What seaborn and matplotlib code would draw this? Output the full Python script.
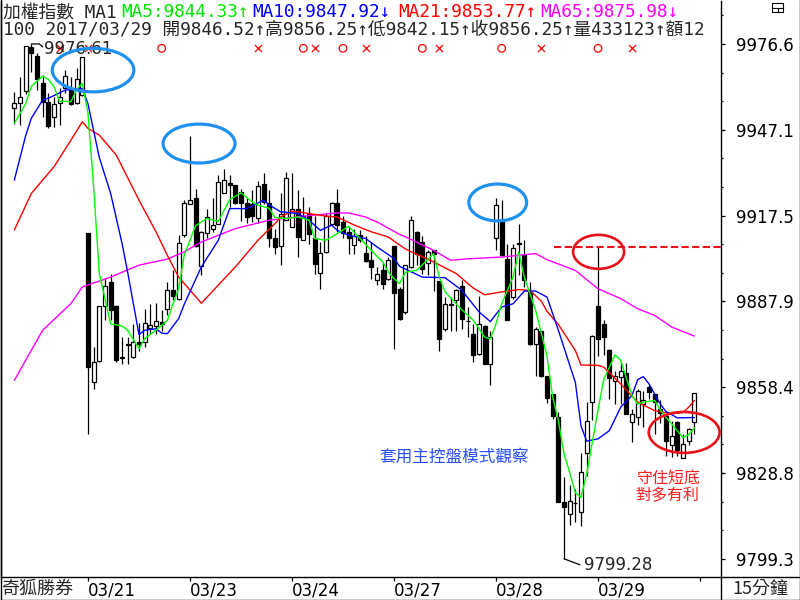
import numpy as np
import pandas as pd
import matplotlib
matplotlib.use('Agg')
import matplotlib.pyplot as plt
from matplotlib.patches import Ellipse, Rectangle
from matplotlib.lines import Line2D
import seaborn as sns

# 15-minute bars, TAIEX, 2017/03/20 .. 03/29 (bar index = position)
opens = [9954.4, 9956.1, 9960.5, 9975.5, 9972.5, 9963.0, 9956.7, 9951.3, 9956.1, 9961.3,
         9960.7, 9956.1, 9959.0, 9911.4, 9860.1, 9867.4, 9886.2, 9894.6, 9886.2, 9868.5,
         9873.0, 9868.7, 9873.9, 9873.9, 9878.9, 9879.3, 9880.7, 9885.4, 9891.7, 9888.9,
         9910.7, 9921.6, 9923.7, 9900.0, 9911.5, 9912.7, 9914.7, 9925.3, 9928.8, 9928.0,
         9925.7, 9921.9, 9921.6, 9916.8, 9928.3, 9921.9, 9909.9, 9906.9, 9916.1, 9913.6,
         9919.9, 9909.2, 9918.2, 9909.6, 9897.7, 9905.0, 9914.5, 9921.9, 9915.3, 9911.9,
         9907.3, 9910.7, 9904.6, 9902.1, 9895.4, 9898.6, 9895.8, 9906.9, 9892.3, 9884.3,
         9899.8, 9911.9, 9908.4, 9901.2, 9905.5, 9895.0, 9878.5, 9886.9, 9888.5, 9893.1,
         9881.2, 9876.8, 9869.9, 9879.3, 9866.4, 9909.6, 9915.9, 9902.6, 9889.4, 9907.8,
         9903.8, 9891.0, 9873.1, 9877.9, 9862.4, 9856.1, 9848.0, 9818.7, 9814.7, 9818.4,
         9815.3, 9835.6, 9853.2, 9886.2, 9880.2, 9871.3, 9860.5, 9861.8, 9863.2, 9846.3,
         9848.0, 9852.6, 9858.4, 9856.1, 9851.0, 9848.6, 9838.6, 9846.3, 9834.0, 9839.8,
         9846.52]
highs = [9960.2, 9965.1, 9975.9, 9976.61, 9973.4, 9965.9, 9959.6, 9958.4, 9961.3, 9967.6,
         9965.1, 9968.2, 9972.0, 9911.4, 9872.2, 9886.2, 9896.1, 9897.2, 9886.6, 9875.6,
         9875.6, 9880.0, 9880.5, 9885.2, 9886.9, 9887.4, 9884.8, 9894.6, 9898.6, 9910.7,
         9922.8, 9944.9, 9926.8, 9912.2, 9919.6, 9923.7, 9931.4, 9933.4, 9931.4, 9928.0,
         9926.5, 9923.7, 9926.2, 9929.4, 9932.2, 9926.2, 9913.0, 9925.1, 9932.6, 9932.2,
         9926.2, 9923.9, 9920.5, 9917.3, 9908.4, 9918.4, 9922.2, 9926.8, 9917.3, 9913.6,
         9912.7, 9912.4, 9910.4, 9908.4, 9899.8, 9901.5, 9903.2, 9906.9, 9892.9, 9900.4,
         9917.3, 9912.2, 9910.4, 9905.5, 9905.8, 9895.0, 9889.4, 9889.4, 9892.3, 9895.2,
         9886.0, 9880.2, 9889.7, 9879.7, 9877.9, 9923.4, 9922.8, 9907.6, 9907.6, 9914.7,
         9909.2, 9894.6, 9879.0, 9877.9, 9862.4, 9856.1, 9849.7, 9827.3, 9824.8, 9823.3,
         9835.6, 9853.2, 9876.2, 9906.8, 9881.4, 9871.6, 9864.1, 9867.0, 9866.7, 9850.9,
         9857.8, 9857.0, 9859.3, 9856.1, 9853.8, 9849.2, 9846.9, 9846.9, 9842.3, 9844.3,
         9856.25]
lows = [9949.2, 9948.7, 9959.5, 9967.0, 9960.7, 9951.5, 9947.5, 9948.1, 9948.7, 9959.8,
        9955.6, 9955.9, 9958.7, 9842.4, 9857.8, 9867.0, 9881.6, 9881.4, 9867.0, 9866.4,
        9866.4, 9868.5, 9871.0, 9872.2, 9876.8, 9876.8, 9877.9, 9883.1, 9888.3, 9888.5,
        9910.1, 9921.4, 9906.7, 9896.9, 9909.6, 9911.9, 9914.5, 9925.1, 9920.5, 9921.4,
        9915.6, 9915.0, 9915.3, 9915.0, 9921.4, 9906.7, 9904.4, 9900.3, 9915.9, 9913.4,
        9903.2, 9909.0, 9907.8, 9897.5, 9892.3, 9904.6, 9914.2, 9911.9, 9909.6, 9904.4,
        9904.2, 9908.4, 9901.5, 9895.8, 9893.5, 9892.3, 9895.2, 9871.6, 9881.4, 9883.7,
        9899.6, 9900.4, 9897.5, 9896.9, 9891.5, 9871.0, 9877.9, 9877.9, 9877.9, 9878.5,
        9875.6, 9867.0, 9869.6, 9866.4, 9859.0, 9905.5, 9903.8, 9881.4, 9888.9, 9896.9,
        9892.9, 9872.8, 9862.4, 9861.8, 9852.9, 9847.5, 9818.7, 9799.28, 9811.0, 9811.8,
        9810.4, 9827.9, 9847.0, 9869.0, 9869.3, 9854.4, 9852.6, 9852.6, 9849.2, 9839.4,
        9845.2, 9844.6, 9854.4, 9842.3, 9846.0, 9834.8, 9834.2, 9834.8, 9834.0, 9838.3,
        9842.15]
closes = [9956.4, 9958.4, 9975.9, 9973.4, 9964.4, 9956.7, 9948.3, 9955.9, 9958.4, 9965.6,
          9955.9, 9964.4, 9972.0, 9865.2, 9867.0, 9886.2, 9893.1, 9884.8, 9867.6, 9868.9,
          9873.2, 9873.9, 9873.1, 9880.5, 9879.7, 9881.2, 9880.3, 9891.9, 9889.8, 9908.1,
          9921.9, 9923.0, 9906.9, 9911.9, 9917.0, 9914.4, 9929.1, 9929.7, 9928.0, 9921.9,
          9921.9, 9917.0, 9917.3, 9927.6, 9922.2, 9909.6, 9906.5, 9918.2, 9930.3, 9919.6,
          9910.1, 9917.3, 9911.3, 9900.7, 9904.6, 9917.3, 9921.9, 9914.2, 9911.5, 9909.9,
          9910.4, 9909.2, 9901.8, 9899.8, 9897.4, 9894.0, 9902.3, 9890.7, 9882.0, 9900.4,
          9915.9, 9904.4, 9899.2, 9904.9, 9904.2, 9875.0, 9886.9, 9886.6, 9891.9, 9882.0,
          9881.3, 9869.6, 9880.0, 9866.4, 9875.6, 9921.1, 9903.8, 9881.4, 9906.4, 9907.9,
          9895.2, 9873.3, 9878.5, 9862.4, 9854.7, 9848.3, 9818.7, 9817.0, 9819.3, 9818.6,
          9829.1, 9846.9, 9875.9, 9875.1, 9875.6, 9861.6, 9862.4, 9864.1, 9849.2, 9849.2,
          9857.2, 9853.8, 9856.7, 9853.2, 9849.5, 9840.0, 9841.7, 9836.8, 9838.9, 9844.0,
          9856.25]

# moving averages (bar index, value)
ma5_x = [0, 2, 3, 5, 6, 7, 8, 9, 10, 11, 12, 13, 14, 15, 17, 19, 20, 22, 23, 25,
         27, 28, 29, 30, 32, 34, 36, 38, 40, 42, 43, 45, 46, 48, 50, 52, 53, 55, 57, 59,
         61, 63, 65, 66, 67, 68, 69, 71, 74, 75, 76, 79, 81, 83, 84, 85, 86, 88, 89, 90,
         92, 93, 94, 95, 96, 97, 98, 99, 100, 101, 103, 104, 106, 107, 109, 110, 111, 113, 114, 115,
         116, 118, 119, 120]
ma5_y = [9949.2, 9956.0, 9962.0, 9965.5, 9964.4, 9961.9, 9956.7, 9956.9, 9956.7, 9961.0,
         9963.0, 9952.7, 9927.4, 9897.5, 9880.2, 9879.5, 9878.0, 9871.6, 9875.1, 9878.0,
         9881.4, 9887.0, 9892.3, 9904.0, 9914.0, 9916.5, 9915.5, 9923.0, 9925.3, 9922.2,
         9921.1, 9920.0, 9916.8, 9916.5, 9917.0, 9916.0, 9909.6, 9909.0, 9911.3, 9913.8,
         9909.6, 9905.5, 9901.5, 9898.0, 9895.8, 9894.0, 9898.0, 9898.6, 9904.4, 9896.3,
         9891.2, 9885.0, 9881.4, 9875.6, 9875.0, 9880.2, 9887.1, 9896.3, 9905.0, 9896.3,
         9884.8, 9877.0, 9869.0, 9855.0, 9846.9, 9835.4, 9829.0, 9822.0, 9820.4, 9828.5,
         9850.5, 9861.0, 9869.5, 9867.6, 9855.5, 9852.6, 9853.2, 9853.8, 9850.5, 9848.0,
         9845.7, 9841.0, 9842.0, 9844.33]
ma10_x = [0, 2, 3, 5, 6, 9, 12, 13, 15, 17, 19, 20, 22, 23, 25, 26, 27, 29, 30, 33,
          36, 38, 41, 44, 45, 47, 50, 52, 54, 56, 57, 59, 62, 64, 67, 68, 72, 76, 79, 82,
          84, 86, 88, 90, 92, 94, 96, 99, 100, 101, 103, 105, 107, 109, 110, 111, 112, 113, 114, 115,
          117, 120]
ma10_y = [9929.7, 9945.0, 9951.0, 9957.3, 9957.9, 9960.7, 9961.3, 9956.0, 9937.5, 9925.1,
          9908.0, 9898.0, 9876.5, 9878.0, 9878.5, 9877.0, 9876.8, 9882.0, 9887.0, 9899.8,
          9909.0, 9919.9, 9919.9, 9922.8, 9921.1, 9918.8, 9918.2, 9915.9, 9912.4, 9914.2,
          9912.4, 9910.7, 9909.6, 9906.7, 9902.7, 9900.0, 9896.3, 9896.1, 9891.7, 9884.3,
          9881.0, 9886.0, 9887.1, 9891.5, 9891.5, 9889.4, 9878.0, 9860.0, 9845.0, 9839.8,
          9840.6, 9843.4, 9851.5, 9855.5, 9861.0, 9862.0, 9859.5, 9856.0, 9852.5, 9850.0,
          9847.8, 9847.92]
ma21_x = [0, 3, 7, 10, 12, 13, 15, 18, 22, 25, 27, 29, 33, 39, 43, 46, 47, 49, 50, 52,
          55, 57, 60, 63, 66, 69, 74, 78, 81, 83, 86, 89, 91, 93, 94, 96, 99, 100, 103, 104,
          107, 110, 113, 116, 118, 119, 120]
ma21_y = [9912.5, 9925.1, 9934.3, 9943.5, 9949.8, 9947.5, 9945.2, 9938.3, 9922.8, 9911.9,
          9903.8, 9896.3, 9887.3, 9899.8, 9909.0, 9914.7, 9917.0, 9919.0, 9918.8, 9918.2,
          9917.3, 9917.0, 9914.2, 9911.9, 9910.1, 9906.0, 9901.5, 9897.5, 9892.5, 9890.2,
          9891.2, 9892.0, 9891.7, 9888.0, 9884.5, 9880.0, 9871.0, 9866.0, 9865.9, 9865.3,
          9859.5, 9853.2, 9850.3, 9849.2, 9849.7, 9851.5, 9853.77]
ma65_x = [0, 5, 10, 12, 17, 22, 27, 30, 33, 39, 45, 51, 57, 59, 62, 64, 68, 70, 74, 77,
          80, 86, 92, 94, 99, 103, 107, 110, 113, 116, 120]
ma65_y = [9860.7, 9878.0, 9887.2, 9892.9, 9896.3, 9900.4, 9902.5, 9905.0, 9908.4, 9913.0,
          9915.9, 9917.3, 9918.4, 9918.4, 9917.0, 9915.3, 9911.0, 9909.3, 9905.5, 9902.1,
          9902.6, 9903.2, 9904.4, 9902.3, 9898.6, 9892.3, 9888.9, 9885.4, 9883.1, 9879.1,
          9875.98]

signal_o = [26, 51, 58, 72, 86, 103]
signal_x = [8, 13, 43, 53, 62, 75, 93, 109]

tick_bars = [13, 31, 49, 67, 85, 103, 121]
tick_labels = ['03/21', '03/23', '03/24', '03/27', '03/28', '03/29', '']
price_ticks = [9976.6, 9947.1, 9917.5, 9887.9, 9858.4, 9828.8, 9799.3]

W, H = 800, 600


def fx(px):
    return px / W


def fy(py):
    return 1 - py / H


sns.set_style('white')
plt.rcParams['font.family'] = ['DejaVu Sans', 'Noto Sans CJK TC']
mono = ['DejaVu Sans Mono', 'Noto Sans CJK TC']
cjk = ['Noto Sans CJK TC', 'DejaVu Sans']

fig = plt.figure(figsize=(8, 6), dpi=100)
ax = fig.add_axes([1 / W, 23 / H, 720 / W, 576 / H])
ax.set_facecolor('white')

df = pd.DataFrame({'open': opens, 'high': highs, 'low': lows, 'close': closes})
df['bar'] = np.arange(len(df))
up = df['close'] >= df['open']
body_lo = df[['open', 'close']].min(axis=1)
body_h = (df['close'] - df['open']).abs()

# candles
ax.vlines(df['bar'], df['low'], df['high'], color='black', linewidth=0.9, zorder=2)
ax.bar(df['bar'][up], body_h[up], bottom=body_lo[up], width=0.7,
       facecolor='white', edgecolor='black', linewidth=0.9, zorder=3)
ax.bar(df['bar'][~up], body_h[~up], bottom=body_lo[~up], width=0.7,
       facecolor='black', edgecolor='black', linewidth=0.9, zorder=3)

# moving averages
for xs, ys, col in [(ma65_x, ma65_y, '#ff00ff'), (ma21_x, ma21_y, '#ff0000'),
                    (ma10_x, ma10_y, '#0000ff'), (ma5_x, ma5_y, '#00ff00')]:
    sns.lineplot(x=xs, y=ys, color=col, linewidth=1.0, ax=ax, zorder=4)

# signal marks
ax.scatter(signal_o, [9975.1] * len(signal_o), marker='o', s=30,
           facecolors='none', edgecolors='red', linewidths=0.9, zorder=5)
ax.scatter(signal_x, [9975.1] * len(signal_x), marker='x', s=26,
           color='red', linewidths=0.9, zorder=5)

# max / min labels
ax.plot([3, 4.4, 5.0], [9976.61, 9976.61, 9975.6], color='black', lw=0.9, zorder=5)
ax.text(5.3, 9974.8, '9976.61', fontsize=12, va='center', ha='left', zorder=6)
ax.plot([97, 99.8], [9799.28, 9797.2], color='black', lw=0.9, zorder=5)
ax.text(100.5, 9797.2, '9799.28', fontsize=12, va='center', ha='left', zorder=6)

# hand-drawn highlights
for (cx, cy, w, h) in [(13.9, 9967.6, 14.4, 15.0), (32.6, 9942.3, 12.7, 13.4), (85.3, 9922.0, 10.2, 12.7)]:
    ax.add_patch(Ellipse((cx, cy), w, h, fill=False, edgecolor='#1e90f0', lw=2.3, zorder=7))
for (cx, cy, w, h) in [(103.1, 9905.0, 9.0, 11.7), (118.2, 9842.8, 12.5, 14.1)]:
    ax.add_patch(Ellipse((cx, cy), w, h, fill=False, edgecolor='#e8101a', lw=1.9, zorder=7))
ax.plot([95.2, 124.7], [9906.8, 9906.8], color='#e8101a', lw=1.5, dashes=(3.5, 1.6), zorder=6)

ax.text(77.6, 9834.4, '套用主控盤模式觀察', family=cjk, fontsize=12, color='#2850f5',
        ha='center', va='center', zorder=6)
ax.text(115.3, 9827.1, '守住短底', family=cjk, fontsize=11.5, color='#ff2020',
        ha='center', va='center', zorder=6)
ax.text(115.3, 9820.9, '對多有利', family=cjk, fontsize=11.5, color='#ff2020',
        ha='center', va='center', zorder=6)

# axes, ticks
ax.set_xlim(-2.35, 124.7)
ax.set_ylim(9793.0, 9991.4)
ax.set_xlabel('')
ax.set_ylabel('')
ax.yaxis.tick_right()
ax.set_yticks(price_ticks)
ax.set_yticklabels([f'{v:.1f}' for v in price_ticks])
ax.set_yticks(np.arange(9799.3, 9990, 29.55 / 3), minor=True)
ax.tick_params(axis='y', which='major', direction='out', length=3, width=0.9,
               pad=8, labelsize=12, colors='black', right=True, left=False)
ax.tick_params(axis='y', which='minor', direction='out', length=1.2, width=0.9,
               colors='black', right=True, left=False)
ax.set_xticks(tick_bars)
ax.set_xticklabels(tick_labels)
ax.tick_params(axis='x', direction='out', length=3, width=0.9, pad=0.5, colors='black', bottom=True)
for lbl in ax.get_xticklabels():
    lbl.set_horizontalalignment('left')
    lbl.set_fontsize(12)
ax.spines['top'].set_visible(False)
for s in ['left', 'right', 'bottom']:
    ax.spines[s].set_color('black')
    ax.spines[s].set_linewidth(1.0)

# header
fig.text(fx(3), fy(12), '加權指數 MA1', family=mono, fontsize=12.8, va='center', ha='left')
for left, txt, col in [(121, 'MA5:9844.33↑', '#00e600'), (252, 'MA10:9847.92↓', '#0000ff'),
                       (398, 'MA21:9853.77↑', '#ff0000'), (540, 'MA65:9875.98↓', '#ff00ff')]:
    fig.text(fx(left), fy(12), txt, family=mono, fontsize=12.8, color=col, va='center', ha='left')
fig.text(fx(3), fy(29), '100 2017/03/29 開9846.52↑高9856.25↑低9842.15↑收9856.25↑量433123↑額12',
         family=mono, fontsize=12.8, va='center', ha='left')

# bottom row and frame
fig.text(fx(1), fy(589), '奇狐勝券', family=cjk, fontsize=13, va='center', ha='left')
fig.text(fx(760), fy(589), '15分鐘', family=cjk, fontsize=13, va='center', ha='center')
for xs, ys in [([721, 800], [577, 577]), ([721, 721], [577, 600]), ([0.5, 0.5], [0, 600]),
               ([0, 800], [599.5, 599.5]), ([799.5, 799.5], [0, 600])]:
    fig.add_artist(Line2D([fx(x) for x in xs], [fy(y) for y in ys], transform=fig.transFigure,
                          color='black', lw=1.0))
fig.add_artist(Rectangle((fx(772), fy(12)), 11 / W, 9 / H, transform=fig.transFigure,
                         fill=False, lw=0.8, edgecolor='black'))
fig.add_artist(Line2D([fx(772), fx(783)], [fy(7.5), fy(7.5)], transform=fig.transFigure,
                      color='black', lw=0.8))
fig.add_artist(Line2D([fx(777.5), fx(777.5)], [fy(7.5), fy(12)], transform=fig.transFigure,
                      color='black', lw=0.8))

fig.savefig('out.png', dpi=100)
